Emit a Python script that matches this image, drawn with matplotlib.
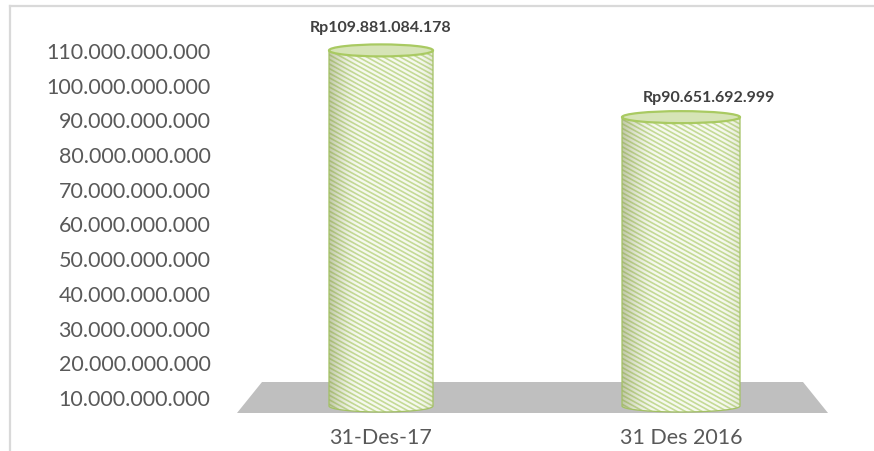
import numpy as np
import matplotlib
matplotlib.use("Agg")
import matplotlib.pyplot as plt
from matplotlib.patches import Ellipse, PathPatch, Polygon
from matplotlib.path import Path
from matplotlib.lines import Line2D
from matplotlib.collections import LineCollection
from matplotlib.ticker import FuncFormatter

# ---------------- data ----------------
categories = ["31-Des-17", "31 Des 2016"]
values = [109881084178, 90651692999]
value_labels = ["Rp109.881.084.178", "Rp90.651.692.999"]
yticks = [10e9, 20e9, 30e9, 40e9, 50e9, 60e9, 70e9, 80e9, 90e9, 100e9, 110e9]

# ---------------- style ----------------
W, H, DPI = 874, 452, 100
FONT = "Lato"
TICK_COLOR = "#595959"
LABEL_COLOR = "#404040"
GREEN_EDGE = "#A3C164"
STRIPE = "#C4DA96"
BODY = "#F6F9EE"
TOP_FILL = "#D6E4B6"
FLOOR = "#BFBFBF"
FRAME = "#D9D9D9"

fig = plt.figure(figsize=(W / DPI, H / DPI), dpi=DPI)
fig.patch.set_facecolor("white")

# axes in pixel coordinates
ax_left, ax_right, ax_top, ax_bottom = 225, 845, 15, 420
ax = fig.add_axes([ax_left / W, (H - ax_bottom) / H,
                   (ax_right - ax_left) / W, (ax_bottom - ax_top) / H])

# y scale: 110e9 at px 51, 10e9 at px 398
Y10, Y110 = 398, 51
px_per_unit_y = (Y10 - Y110) / 100e9
ylo = 10e9 - (ax_bottom - Y10) / px_per_unit_y
yhi = 10e9 + (Y10 - ax_top) / px_per_unit_y
ax.set_ylim(ylo, yhi)
X0, X1 = 381, 681
px_per_unit_x = X1 - X0
xlo = (ax_left - X0) / px_per_unit_x
xhi = (ax_right - X0) / px_per_unit_x
ax.set_xlim(xlo, xhi)

for s in ax.spines.values():
    s.set_visible(False)
ax.set_facecolor("none")

ax.set_yticks(yticks)
ax.yaxis.set_major_formatter(FuncFormatter(lambda v, p: f"{v:,.0f}".replace(",", ".")))
ax.tick_params(axis="y", length=0, pad=10.5, labelsize=15.5, labelcolor=TICK_COLOR)
ax.set_xticks(range(len(categories)))
ax.set_xticklabels(categories)
ax.tick_params(axis="x", length=0, pad=6, labelsize=15.5, labelcolor=TICK_COLOR)
for lab in ax.get_yticklabels() + ax.get_xticklabels():
    lab.set_fontfamily(FONT)

# --------- floor ---------
n = len(categories)
f_bot = 10e9 - (414 - Y10) / px_per_unit_y
f_top = 10e9 + (Y10 - 383) / px_per_unit_y
left_b = -0.5 + 0.02
right_b = n - 0.5 - 0.01
inset = 25 / px_per_unit_x
floor = Polygon([(left_b, f_bot), (right_b, f_bot),
                 (right_b - inset, f_top), (left_b + inset, f_top)],
                closed=True, facecolor=FLOOR, edgecolor="none", zorder=1)
ax.add_patch(floor)

# --------- cylinders ---------
bar_widths_px = [104, 118]
ell_h = 12 / px_per_unit_y
base = 10e9 - (407 - Y10) / px_per_unit_y
label_offsets_px = [(0, 23), (28, 20)]

def body_path(xc, top, bw):
    x0, x1 = xc - bw / 2, xc + bw / 2
    t = np.linspace(np.pi, 2 * np.pi, 60)
    ex = xc + bw / 2 * np.cos(t)
    ey = base + ell_h / 2 * np.sin(t)
    verts = [(x0, top)] + list(zip(ex, ey)) + [(x1, top), (x0, top)]
    codes = [Path.MOVETO] + [Path.LINETO] * (len(verts) - 2) + [Path.CLOSEPOLY]
    return Path(verts, codes)

for i, v in enumerate(values):
    xc = i
    bw = bar_widths_px[i] / px_per_unit_x
    bp = body_path(xc, v, bw)
    body = PathPatch(bp, facecolor=BODY, edgecolor="none", zorder=2)
    ax.add_patch(body)

    # diagonal stripes (slope defined in pixel space)
    spacing = 4.6 / px_per_unit_y
    slope_px = 0.55
    dy = -slope_px * (bw * px_per_unit_x) / px_per_unit_y
    starts = np.arange(base - ell_h, v + ell_h + abs(dy), spacing)
    segs = [[(xc - bw / 2, s0), (xc + bw / 2, s0 + dy)] for s0 in starts]
    lc = LineCollection(segs, colors=STRIPE, linewidths=1.2, zorder=3)
    ax.add_collection(lc)
    lc.set_clip_path(body)

    # shading gradient (dark left edge, highlight centre, soft right edge)
    gx = np.linspace(0, 1, 200)
    dark = 0.45 * np.clip(1 - gx / 0.3, 0, 1) ** 1.8 + 0.15 * np.clip((gx - 0.82) / 0.18, 0, 1) ** 2
    rgba = np.zeros((1, 200, 4))
    rgba[..., 0] = 0.50
    rgba[..., 1] = 0.56
    rgba[..., 2] = 0.30
    rgba[..., 3] = dark
    im = ax.imshow(rgba, extent=(xc - bw / 2, xc + bw / 2, base - ell_h, v),
                   aspect="auto", zorder=4, interpolation="bilinear")
    im.set_clip_path(body)

    outline = PathPatch(bp, facecolor="none", edgecolor=GREEN_EDGE, lw=0.9, zorder=5)
    ax.add_patch(outline)

    top = Ellipse((xc, v), bw, ell_h, facecolor=TOP_FILL, edgecolor="#A9CA62",
                  lw=1.6, zorder=6)
    ax.add_patch(top)

    ox, oy = label_offsets_px[i]
    ax.annotate(value_labels[i], xy=(xc, v), xytext=(ox * 72 / DPI, oy * 72 / DPI),
                textcoords="offset points", ha="center", va="center",
                fontsize=11.5, fontweight="bold", color=LABEL_COLOR,
                fontfamily=FONT, zorder=7, annotation_clip=False)

# --------- frame lines ---------
fig.add_artist(Line2D([10 / W, 1], [1 - 7 / H, 1 - 7 / H], color=FRAME, lw=1.6,
                      transform=fig.transFigure))
fig.add_artist(Line2D([10 / W, 10 / W], [0, 1 - 7 / H], color=FRAME, lw=1.6,
                      transform=fig.transFigure))

fig.savefig("out.png", dpi=DPI)
